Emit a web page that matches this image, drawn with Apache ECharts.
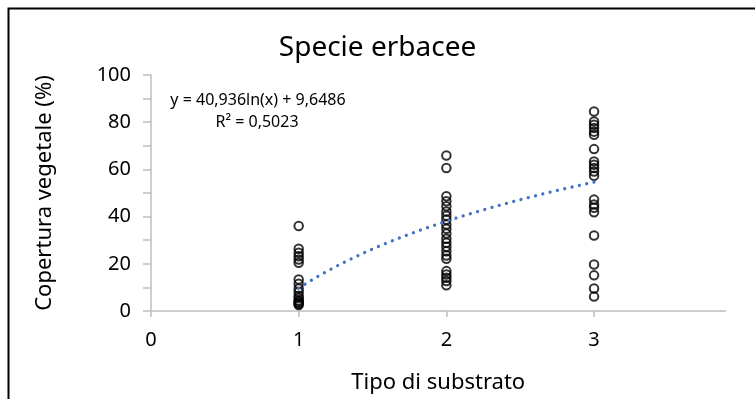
<!DOCTYPE html>
<html>
<head>
<meta charset="utf-8">
<script src="https://cdn.jsdelivr.net/npm/echarts@6/dist/echarts.min.js"></script>
<style>html,body{margin:0;padding:0;background:#fff}#c{width:755px;height:399px}</style>
</head>
<body>
<div id="c"></div>
<script>
const titleText = "Specie erbacee";
const xName = "Tipo di substrato";
const yName = "Copertura vegetale (%)";
const xTicks = [0, 1, 2, 3];
const group1 = [36, 26.4, 24.7, 23.2, 21.8, 20.4, 13.4, 11.5, 9.5, 8, 6.5, 5.5, 4.5, 4, 3.5, 3, 2.5];
const group2 = [65.9, 60.6, 48.6, 46.5, 44.4, 42.2, 40.4, 38.7, 36.6, 34.8, 32.8, 30.6, 28.9, 27.2, 25.3, 23.5, 22.1, 16.9, 15.5, 14.1, 12.7, 10.9];
const group3 = [84.5, 80.3, 78.9, 77.5, 76.0, 74.7, 68.6, 63.4, 62.0, 60.6, 59.1, 57.3, 47.2, 45.1, 43.7, 41.8, 32.0, 19.7, 15.1, 9.5, 6.1];
const trendA = 40.936, trendB = 9.6486;
const eqText = "y = 40,936ln(x) + 9,6486";
const r2Text = "R² = 0,5023";

const scatterData = [];
group1.forEach(v => scatterData.push([1, v]));
group2.forEach(v => scatterData.push([2, v]));
group3.forEach(v => scatterData.push([3, v]));
const trendData = [];
for (let i = 0; i <= 100; i++) { const x = 1 + i * 0.02; trendData.push([x, trendA * Math.log(x) + trendB]); }

const FONT = "Noto Sans";
const chart = echarts.init(document.getElementById('c'), null, {renderer: 'canvas'});
chart.setOption({
  animation: false,
  backgroundColor: '#fff',
  textStyle: {fontFamily: FONT},
  title: {text: titleText, left: 'center', top: 29, textStyle: {fontFamily: FONT, fontSize: 28, fontWeight: 'normal', color: '#000'}},
  grid: {left: 151, right: 29.5, top: 75, bottom: 87.3, containLabel: false},
  xAxis: {
    type: 'value', min: 0, max: 3.89, interval: 1,
    name: xName, nameLocation: 'middle', nameGap: 61,
    nameTextStyle: {fontFamily: FONT, fontSize: 22, color: '#000'},
    axisLine: {show: true, lineStyle: {color: '#bfbfbf', width: 1.5}},
    axisTick: {show: true, length: 6, lineStyle: {color: '#bfbfbf', width: 1.5}, customValues: xTicks},
    axisLabel: {fontFamily: FONT, fontSize: 20, color: '#000', margin: 19, customValues: xTicks},
    splitLine: {show: false}
  },
  yAxis: {
    type: 'value', min: 0, max: 100, interval: 20,
    name: yName, nameLocation: 'middle', nameGap: 95,
    nameTextStyle: {fontFamily: FONT, fontSize: 22, color: '#000'},
    axisLine: {show: true, lineStyle: {color: '#bfbfbf', width: 1.5}},
    axisTick: {show: true, length: 8, lineStyle: {color: '#bfbfbf', width: 1.5}},
    minorTick: {show: true, splitNumber: 2, length: 8, lineStyle: {color: '#bfbfbf', width: 1.5}},
    axisLabel: {fontFamily: FONT, fontSize: 20, color: '#000', margin: 20},
    splitLine: {show: false}
  },
  series: [
    {type: 'scatter', data: scatterData, symbol: 'circle', symbolSize: 8.5,
     itemStyle: {color: 'rgba(0,0,0,0)', borderColor: '#000', borderWidth: 2}, z: 3},
    {type: 'line', data: trendData, showSymbol: false, symbol: 'none', smooth: false,
     lineStyle: {color: '#4472C4', width: 3.3, type: [0.01, 7.5], cap: 'round'}, z: 4}
  ],
  graphic: [
    {type: 'rect', shape: {x: 8.5, y: 8.5, width: 900, height: 600}, style: {fill: 'none', stroke: '#000', lineWidth: 2}, silent: true},
    {type: 'text', x: 258, y: 100, style: {text: eqText, font: '16px "Noto Sans"', fill: '#000', align: 'center', verticalAlign: 'middle'}},
    {type: 'text', x: 257, y: 122, style: {text: r2Text, font: '16px "Noto Sans"', fill: '#000', align: 'center', verticalAlign: 'middle'}}
  ]
});
</script>
</body>
</html>
